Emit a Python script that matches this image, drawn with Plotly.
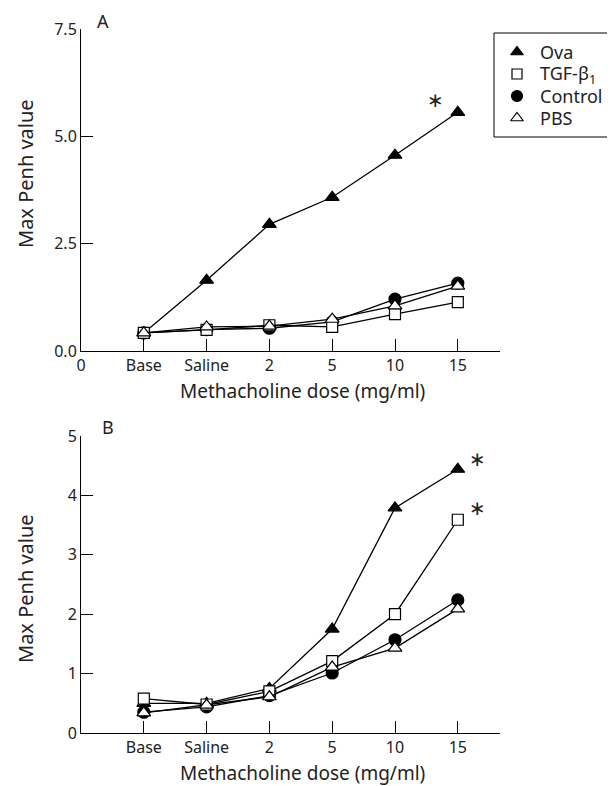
import plotly.graph_objects as go

# The page places the figure 8px from the top-left corner of the window.
WIN_W, WIN_H = 615, 786
OFF = 8
W, H = WIN_W - OFF, WIN_H - OFF
FONT = "Noto Sans"

# ---- data ----
dose_labels = ["Base", "Saline", "2", "5", "10", "15"]
dose_pos = [1, 2, 3, 4, 5, 6]

a_ova = [0.42, 1.65, 2.95, 3.58, 4.56, 5.56]
a_tgf = [0.42, 0.49, 0.60, 0.56, 0.86, 1.14]
a_control = [0.42, 0.50, 0.53, 0.68, 1.21, 1.58]
a_pbs = [0.42, 0.56, 0.58, 0.74, 1.05, 1.51]

b_ova = [0.50, 0.50, 0.75, 1.75, 3.79, 4.44]
b_tgf = [0.58, 0.48, 0.70, 1.21, 2.00, 3.59]
b_control = [0.35, 0.44, 0.63, 1.01, 1.57, 2.24]
b_pbs = [0.34, 0.47, 0.61, 1.11, 1.43, 2.09]

a_star = [(5.65, 5.85)]
b_star = [(6.32, 4.62), (6.32, 3.78)]

series_names = ["Ova", "TGF-β<sub>1</sub>", "Control", "PBS"]
symbols = ["triangle-up", "square", "circle", "triangle-up"]
fills = ["black", "white", "black", "white"]
sizes = [12, 11, 12, 12]

def px_x(p):
    return (p - OFF) / W

def px_y(p):
    return 1 - (p - OFF) / H

fig = go.Figure()

panels = [
    ("x", "y", [a_ova, a_tgf, a_control, a_pbs]),
    ("x2", "y2", [b_ova, b_tgf, b_control, b_pbs]),
]
draw_order = [2, 0, 1, 3]
for xa, ya, data in panels:
    for i in draw_order:
        fig.add_trace(go.Scatter(
            x=dose_pos, y=data[i], xaxis=xa, yaxis=ya,
            mode="lines+markers", showlegend=False, hoverinfo="skip",
            line=dict(color="black", width=1.3),
            marker=dict(symbol=symbols[i], size=sizes[i], color=fills[i],
                        line=dict(color="black", width=1.2)),
        ))

# ---- custom legend (pixel overlay axis, window coordinates) ----
leg_box = dict(x0=494, y0=33, x1=608, y1=137)
leg_x_marker = 517
leg_x_text = 538
leg_rows = [52, 74, 96, 118]
for i in range(4):
    fig.add_trace(go.Scatter(
        x=[leg_x_marker], y=[leg_rows[i]], xaxis="x3", yaxis="y3",
        mode="markers", showlegend=False, hoverinfo="skip",
        marker=dict(symbol=symbols[i], size=sizes[i] - 1, color=fills[i],
                    line=dict(color="black", width=1.2)),
    ))

xdom = [px_x(81), px_x(500)]
xr = [0, (500 - 81) / 62.8]
tickfont = dict(family=FONT, size=16, color="#222")
common_x = dict(range=xr, domain=xdom, showline=True, linecolor="black", linewidth=1,
                ticks="inside", ticklen=12, tickcolor="black", showgrid=False,
                zeroline=False, tickfont=tickfont, fixedrange=True, automargin=False)
common_y = dict(showline=True, linecolor="black", linewidth=1, ticks="inside", ticklen=12,
                tickcolor="black", showgrid=False, zeroline=False, tickfont=tickfont,
                fixedrange=True, automargin=False)

fig.update_layout(
    width=W, height=H, margin=dict(l=0, r=0, t=0, b=0, pad=0),
    paper_bgcolor="white", plot_bgcolor="rgba(0,0,0,0)",
    font=dict(family=FONT, color="#222"),
    showlegend=False,
    xaxis=dict(common_x, anchor="y", tickvals=[0] + dose_pos, ticktext=["0"] + dose_labels),
    yaxis=dict(common_y, anchor="x", domain=[px_y(351), px_y(29)], range=[0, 7.5],
               tickvals=[0, 2.5, 5, 7.5], tickformat=".1f"),
    xaxis2=dict(common_x, anchor="y2", tickvals=dose_pos, ticktext=dose_labels),
    yaxis2=dict(common_y, anchor="x2", domain=[px_y(733), px_y(436)], range=[0, 5],
                tickvals=[0, 1, 2, 3, 4, 5]),
    xaxis3=dict(domain=[0, 1], range=[OFF, OFF + W], visible=False, fixedrange=True, anchor="y3"),
    yaxis3=dict(domain=[0, 1], range=[OFF + H, OFF], visible=False, fixedrange=True, anchor="x3"),
)

shapes = [dict(type="rect", xref="paper", yref="paper",
               x0=px_x(leg_box["x0"]), x1=px_x(leg_box["x1"]),
               y0=px_y(leg_box["y1"]), y1=px_y(leg_box["y0"]),
               line=dict(color="black", width=1), fillcolor="rgba(0,0,0,0)")]

ann = []
xtitle_font = dict(family=FONT, size=19, color="#222")
ytitle_font = dict(family=FONT, size=20, color="#222")
panel_font = dict(family=FONT, size=18, color="#222")
for i in range(4):
    ann.append(dict(text=series_names[i], xref="paper", yref="paper",
                    x=px_x(leg_x_text), y=px_y(leg_rows[i]), xanchor="left", yanchor="middle",
                    showarrow=False, font=dict(family=FONT, size=18, color="#222")))
for yc in [391, 773]:
    ann.append(dict(text="Methacholine dose (mg/ml)", xref="paper", yref="paper",
                    x=px_x(302), y=px_y(yc), showarrow=False, font=xtitle_font,
                    xanchor="center", yanchor="middle"))
for yc in [174, 589]:
    ann.append(dict(text="Max Penh value", xref="paper", yref="paper", textangle=-90,
                    x=px_x(25), y=px_y(yc), showarrow=False, font=ytitle_font,
                    xanchor="center", yanchor="middle"))
ann.append(dict(text="A", xref="paper", yref="paper", x=px_x(103), y=px_y(21),
                xanchor="center", yanchor="middle", showarrow=False, font=panel_font))
ann.append(dict(text="B", xref="paper", yref="paper", x=px_x(108), y=px_y(427),
                xanchor="center", yanchor="middle", showarrow=False, font=panel_font))
star_font = dict(family="DejaVu Sans", size=20, color="#222")
for (sx, sy) in a_star:
    ann.append(dict(text="∗", xref="x", yref="y", x=sx, y=sy, showarrow=False, font=star_font))
for (sx, sy) in b_star:
    ann.append(dict(text="∗", xref="x2", yref="y2", x=sx, y=sy, showarrow=False, font=star_font))
fig.update_layout(annotations=ann, shapes=shapes)

fig.write_html("out.html")
